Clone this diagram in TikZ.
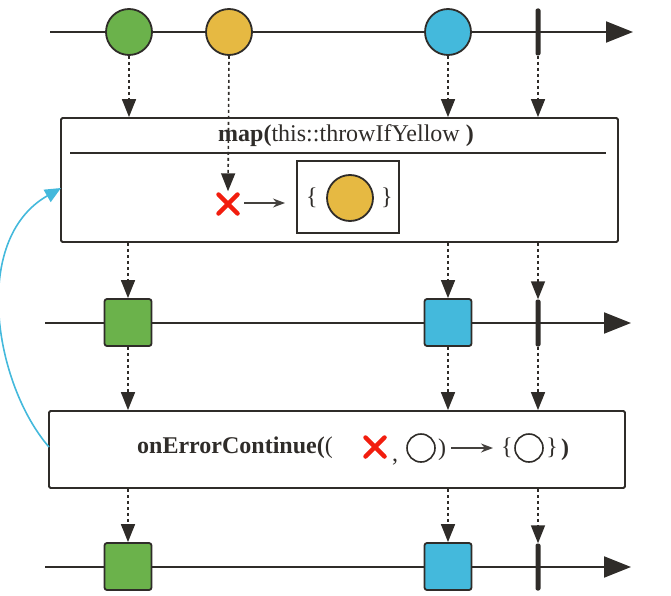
\documentclass[tikz,border=0pt]{standalone}
\usepackage{fontspec}
\setmainfont{Liberation Serif}
\usetikzlibrary{arrows.meta}
\definecolor{dk}{HTML}{2F2C29}
\definecolor{cgreen}{HTML}{6BB24B}
\definecolor{cyellow}{HTML}{E6B942}
\definecolor{cblue}{HTML}{44B9DC}
\definecolor{cred}{HTML}{F21D0E}
\tikzset{
  timeline/.style={draw=dk,line width=2pt,-{Triangle[length=27pt,width=21pt]}},
  ball/.style={circle,draw=dk,line width=1.8pt,minimum size=46pt,inner sep=0pt},
  sq/.style={rectangle,rounded corners=2.5pt,draw=dk,line width=1.8pt,minimum size=47pt,inner sep=0pt},
  tickn/.style={rectangle,rounded corners=2pt,fill=dk,minimum width=5pt,minimum height=47pt,inner sep=0pt},
  flow/.style={draw=dk,line width=1.6pt,dash pattern=on 3pt off 3pt,-{Triangle[length=18pt,width=14pt]}},
  opbox/.style={rectangle,draw=dk,line width=1.8pt,rounded corners=1.5pt,inner sep=0pt},
  xmark/.style={minimum size=25pt,inner sep=0pt,path picture={
     \draw[cred,line width=4.5pt,line cap=round]
       ([shift={(3,3)}]path picture bounding box.north west) -- ([shift={(-3,-3)}]path picture bounding box.south east)
       ([shift={(-3,3)}]path picture bounding box.north east) -- ([shift={(3,-3)}]path picture bounding box.south west);}},
  small/.style={draw=dk!90,line width=1.3pt,-{Stealth[length=12pt,width=9pt]}},
  txt/.style={inner sep=0pt,text=dk,font=\fontsize{24}{27}\selectfont},
  hollow/.style={circle,draw=dk,line width=1.6pt,minimum size=28pt,inner sep=0pt},
}
\begin{document}
\begin{tikzpicture}[x=1pt,y=-1pt]
\useasboundingbox (0,0) rectangle (671,596);
% line 1
\coordinate (l1s) at (50,32); \coordinate (l1e) at (633,32);
\draw[timeline] (l1s) -- (l1e);
\node[ball,fill=cgreen] (g1) at (129,32) {};
\node[ball,fill=cyellow] (y1) at (229,32) {};
\node[ball,fill=cblue] (b1) at (448,32) {};
\node[tickn] (t1) at (538,32) {};
% map box
\node[opbox,minimum width=557pt,minimum height=124pt] (map) at (339.5,180) {};
\node[txt] (maptitle) at (346,136) {\textbf{map(}this::throwIfYellow\textbf{ )}};
\coordinate (sepl) at (70,153); \coordinate (sepr) at (606,153);
\draw[dk,line width=1.8pt] (sepl) -- (sepr);
\node[xmark] (x1) at (228,204) {};
\coordinate (sa1) at (244,203); \coordinate (sa2) at (285,203);
\draw[small] (sa1) -- (sa2);
\node[opbox,rounded corners=0pt,minimum width=102pt,minimum height=72pt] (inner) at (348,197) {};
\node[txt] (lb1) at (312,198) {\{};
\node[ball,fill=cyellow] (y2) at (350,198) {};
\node[txt] (rb1) at (387,198) {\}};
% arrows to map
\draw[flow] (g1.south) -- (g1.south |- map.north);
\draw[flow] (y1.south) -- (x1.north);
\draw[flow] (b1.south) -- (b1.south |- map.north);
\draw[flow] (t1.south) -- (t1.south |- map.north);
% line 2
\coordinate (l2s) at (45,323); \coordinate (l2e) at (631,323);
\draw[timeline] (l2s) -- (l2e);
\node[sq,fill=cgreen] (g2) at (128,322.5) {};
\node[sq,fill=cblue] (b2) at (448,322.5) {};
\node[tickn] (t2) at (538,323) {};
\draw[flow] (g2.north |- map.south) -- (g2.north);
\draw[flow] (b2.north |- map.south) -- (b2.north);
\draw[flow] (t2.north |- map.south) -- (t2.north);
% onErrorContinue box
\node[opbox,minimum width=576pt,minimum height=77pt] (oec) at (337,449.5) {};
\node[txt,anchor=west] (oectxt) at (137,448) {\textbf{onErrorContinue(}(};
\node[xmark] (x2) at (375,447) {};
\node[txt] (comma) at (395,462) {,};
\node[hollow] (h1) at (421,448) {};
\node[txt] (rp1) at (442,450) {)};
\coordinate (sb1) at (451,448); \coordinate (sb2) at (493,448);
\draw[small] (sb1) -- (sb2);
\node[txt] (lb2) at (507,448) {\{};
\node[hollow] (h2) at (529,448) {};
\node[txt] (rb2) at (552,448) {\}};
\node[txt] (rp2) at (565,450) {\textbf{)}};
\draw[flow] (g2.south) -- (g2.south |- oec.north);
\draw[flow] (b2.south) -- (b2.south |- oec.north);
\draw[flow] (t2.south) -- (t2.south |- oec.north);
% line 3
\coordinate (l3s) at (45,567); \coordinate (l3e) at (631,567);
\draw[timeline] (l3s) -- (l3e);
\node[sq,fill=cgreen] (g3) at (128,566.5) {};
\node[sq,fill=cblue] (b3) at (448,566.5) {};
\node[tickn] (t3) at (538,567) {};
\draw[flow] (g3.north |- oec.south) -- (g3.north);
\draw[flow] (b3.north |- oec.south) -- (b3.north);
\draw[flow] (t3.north |- oec.south) -- (t3.north);
% retry curve
\coordinate (cs) at (49,447); \coordinate (ce) at (61,188);
\draw[cblue,line width=1.6pt,-{Triangle[length=16pt,width=14pt]}] (cs) .. controls (-5,385) and (-30,240) .. (ce);
\end{tikzpicture}
\end{document}
